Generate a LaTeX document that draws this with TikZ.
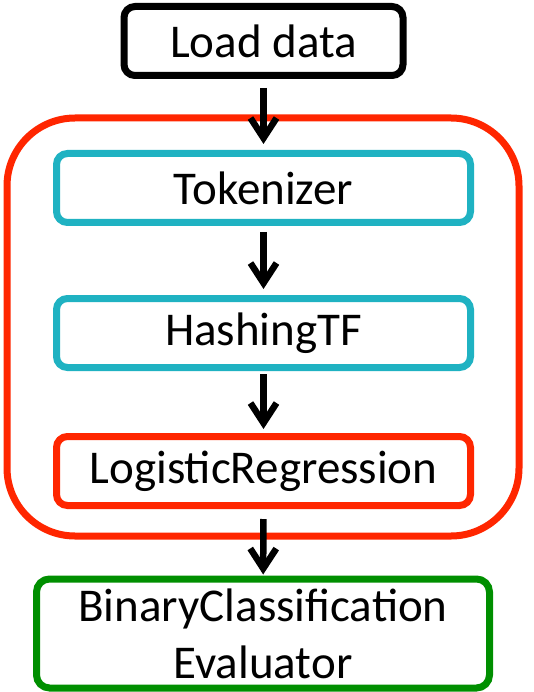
\documentclass[tikz,border=0pt]{standalone}
\usepackage{fontspec}
\setmainfont{Carlito}
\usetikzlibrary{arrows.meta, positioning}

\definecolor{pipered}{RGB}{255,38,0}
\definecolor{stagecyan}{RGB}{31,178,194}
\definecolor{evalgreen}{RGB}{0,143,0}

\begin{document}
\begin{tikzpicture}[%
        x=1pt, y=-1pt,
        line width=7pt,
        every node/.style={font=\fontsize{47}{57}\selectfont, inner sep=0pt, align=center},
        stage/.style={draw, rounded corners=11pt, minimum width=414pt, minimum height=69pt},
        arr/.style={line width=6.5pt, -{Straight Barb[length=20pt, width=26pt]}, shorten <=6pt, shorten >=6pt}
    ]
    \useasboundingbox (0,0) rectangle (534,692);

    % --- Pipeline container ---
    \node[draw=pipered, rounded corners=68pt, minimum width=512pt, minimum height=418pt] (pipeline) at (263,327) {};

    % --- Stages ---
    \node[draw=black, rounded corners=11pt, minimum width=279pt, minimum height=69pt] (load) at (263.5,41) {Load data};
    \node[stage, draw=stagecyan] (tok) at (263.5,188) {Tokenizer};
    \node[stage, draw=stagecyan] (hash) at (263.5,333) {HashingTF};
    \node[stage, draw=pipered] (lr) at (263.5,471) {LogisticRegression};
    \node[draw=evalgreen, rounded corners=13pt, minimum width=453pt, minimum height=109pt] (eval) at (263,633.5) {BinaryClassification\\Evaluator};

    % --- Arrows ---
    \draw[arr, shorten <=9pt] (load) -- (tok);
    \draw[arr] (tok) -- (hash);
    \draw[arr, shorten <=3pt, shorten >=4pt] (hash) -- (lr);
    \draw[arr, shorten <=10pt, shorten >=1pt] (lr) -- (eval);
\end{tikzpicture}
\end{document}
